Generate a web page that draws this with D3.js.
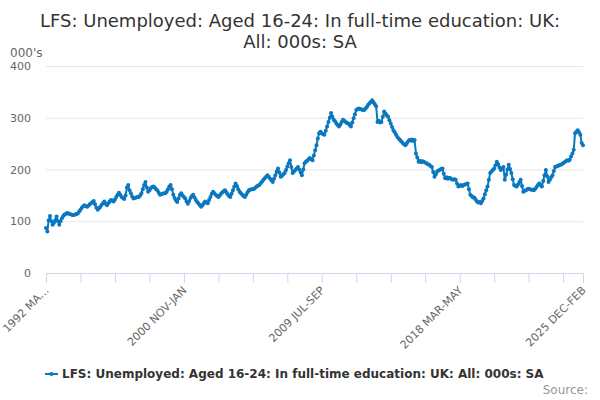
<!DOCTYPE html>
<html>
<head>
<meta charset="utf-8">
<script src="https://cdn.jsdelivr.net/npm/d3@7"></script>
<style>
  body { margin: 0; background: #fff; }
  svg { font-family: "DejaVu Sans", sans-serif; }
</style>
</head>
<body>
<div id="chart"></div>
<script>
// rolling three-month periods, first one is 1992 MAR-MAY
var startYear = 1992;
var startMonth = 2;
var monthNames = ["JAN", "FEB", "MAR", "APR", "MAY", "JUN", "JUL", "AUG", "SEP", "OCT", "NOV", "DEC"];

// thousands, one value per period
var unemployed = [
  87, 80, 102, 110, 100, 93, 97, 102, 109, 100, 93, 100,
  106, 110, 113, 114, 116, 115, 114, 113, 112, 112, 113, 114,
  115, 119, 122, 126, 129, 131, 129, 128, 130, 133, 135, 137,
  139, 133, 126, 122, 125, 128, 132, 135, 138, 134, 131, 135,
  138, 141, 140, 138, 142, 147, 151, 155, 151, 147, 145, 143,
  150, 165, 170, 160, 154, 148, 144, 145, 146, 147, 147, 150,
  154, 162, 170, 176, 165, 157, 160, 164, 166, 167, 165, 162,
  160, 155, 151, 152, 153, 154, 154, 157, 162, 167, 170, 162,
  151, 145, 140, 137, 144, 151, 154, 150, 147, 144, 138, 134,
  139, 145, 149, 151, 146, 141, 137, 135, 131, 128, 131, 135,
  138, 136, 135, 141, 147, 153, 157, 154, 151, 149, 147, 150,
  153, 156, 158, 160, 156, 152, 149, 147, 153, 160, 167, 173,
  168, 162, 157, 154, 151, 149, 147, 151, 156, 160, 161, 162,
  162, 163, 165, 167, 169, 170, 174, 177, 180, 183, 186, 189,
  186, 182, 179, 176, 182, 189, 196, 202, 194, 186, 188, 191,
  193, 199, 206, 212, 218, 205, 193, 196, 199, 202, 205, 200,
  194, 189, 200, 212, 215, 217, 220, 222, 220, 218, 227, 237,
  247, 260, 270, 273, 270, 268, 267, 275, 283, 292, 300, 309,
  302, 296, 293, 289, 286, 283, 287, 292, 296, 294, 292, 290,
  289, 286, 283, 291, 299, 307, 315, 317, 318, 317, 316, 315,
  315, 318, 321, 325, 328, 331, 334, 330, 326, 322, 292, 294,
  291, 292, 302, 312, 308, 305, 302, 295, 289, 282, 276, 272,
  267, 263, 260, 257, 254, 251, 249, 247, 250, 254, 257, 256,
  258, 255, 257, 231, 223, 215, 217, 214, 216, 215, 213, 212,
  210, 209, 207, 205, 195, 186, 191, 196, 198, 199, 201, 202,
  192, 183, 185, 182, 184, 183, 181, 180, 181, 180, 173, 167,
  168, 170, 168, 170, 171, 172, 173, 162, 151, 149, 146, 146,
  142, 138, 136, 137, 135, 139, 144, 152, 160, 167, 180, 193,
  196, 199, 202, 208, 215, 210, 204, 199, 202, 205, 180, 190,
  200, 209, 201, 193, 181, 170, 168, 167, 171, 176, 180, 168,
  157, 159, 160, 162, 163, 162, 161, 161, 160, 163, 166, 170,
  173, 170, 167, 178, 189, 199, 187, 176, 180, 185, 189, 197,
  205, 206, 207, 208, 209, 210, 212, 214, 216, 218, 217, 219,
  225, 231, 238, 270, 273, 276, 272, 267, 251, 247
];

var yTicks = [0, 100, 200, 300, 400];
var xTickLabels = ["1992 MA\u2026", "2000 NOV-JAN", "2009 JUL-SEP", "2018 MAR-MAY", "2025 DEC-FEB"];
var titleLines = ["LFS: Unemployed: Aged 16-24: In full-time education: UK:", "All: 000s: SA"];
var seriesName = "LFS: Unemployed: Aged 16-24: In full-time education: UK: All: 000s: SA";

var periods = unemployed.map(function(d, i) {
  var m = startMonth + i;
  var y = startYear + Math.floor(m / 12);
  return y + " " + monthNames[m % 12] + "-" + monthNames[(m + 2) % 12];
});

var svgWidth = 600;
var svgHeight = 400;
var margin = { top: 66, right: 17, bottom: 127, left: 46 };
var width = svgWidth - margin.left - margin.right;
var height = svgHeight - margin.top - margin.bottom;
var blue = "#0a78bf";

var svg = d3.select("#chart")
  .append("svg")
  .attr("width", svgWidth)
  .attr("height", svgHeight);

// title
svg.append("text")
  .attr("x", 300)
  .attr("y", 27)
  .attr("text-anchor", "middle")
  .attr("font-size", "18px")
  .attr("fill", "#333333")
  .selectAll("tspan")
  .data(titleLines)
  .enter()
  .append("tspan")
  .attr("x", 300)
  .attr("dy", (d, i) => i ? 21 : 0)
  .text(d => d);

var chartGroup = svg.append("g")
  .attr("transform", `translate(${margin.left}, ${margin.top})`);

// scales
var xScale = d3.scalePoint()
  .domain(periods)
  .range([0, width]);

var yScale = d3.scaleLinear()
  .domain([0, 400])
  .range([height, 0]);

// gridlines + y labels
var leftAxis = d3.axisLeft(yScale)
  .tickValues(yTicks)
  .tickSize(-width)
  .tickPadding(15);

var yAxis = chartGroup.append("g").call(leftAxis);
yAxis.select(".domain").remove();
yAxis.selectAll(".tick line").attr("stroke", "#e6e6e6");
yAxis.selectAll(".tick text")
  .attr("fill", "#666666")
  .attr("font-size", "11px")
  .attr("font-family", "DejaVu Sans");

svg.append("text")
  .attr("x", 10)
  .attr("y", 57)
  .attr("font-size", "12px")
  .attr("fill", "#666666")
  .text("000's");

// x axis: tick every 26 periods plus the last one, label every 4th tick
var tickIdx = d3.range(0, periods.length, 26).concat([periods.length - 1]);
var labelIdx = [0, 104, 208, 312, periods.length - 1];

var bottomAxis = d3.axisBottom(xScale)
  .tickValues(tickIdx.map(i => periods[i]))
  .tickSize(10)
  .tickFormat(function(d) {
    var k = labelIdx.indexOf(periods.indexOf(d));
    return k < 0 ? "" : xTickLabels[k];
  });

var xAxis = chartGroup.append("g")
  .attr("transform", `translate(0, ${height})`)
  .call(bottomAxis);
xAxis.select(".domain").attr("stroke", "#ccd6eb");
xAxis.selectAll(".tick line").attr("stroke", "#ccd6eb");
xAxis.selectAll(".tick text")
  .attr("fill", "#666666")
  .attr("font-size", "11px")
  .attr("font-family", "DejaVu Sans")
  .attr("text-anchor", "end")
  .attr("dy", null)
  .attr("y", 0)
  .attr("transform", "translate(3, 18) rotate(-45)");

// series
var line = d3.line()
  .x((d, i) => xScale(periods[i]))
  .y(d => yScale(d));

chartGroup.append("path")
  .datum(unemployed)
  .attr("fill", "none")
  .attr("stroke", blue)
  .attr("stroke-width", 2)
  .attr("stroke-linejoin", "round")
  .attr("d", line);

chartGroup.selectAll("circle")
  .data(unemployed)
  .enter()
  .append("circle")
  .attr("cx", (d, i) => xScale(periods[i]))
  .attr("cy", d => yScale(d))
  .attr("r", 2)
  .attr("fill", blue);

// legend
var legend = svg.append("g").attr("transform", "translate(45, 374)");
legend.append("line")
  .attr("x1", 0).attr("x2", 13)
  .attr("stroke", blue)
  .attr("stroke-width", 2);
legend.append("circle")
  .attr("cx", 6.5)
  .attr("r", 2)
  .attr("fill", blue);
legend.append("text")
  .attr("x", 17)
  .attr("y", 4)
  .attr("font-size", "12px")
  .attr("font-weight", "bold")
  .attr("fill", "#333333")
  .text(seriesName);

svg.append("text")
  .attr("x", 588)
  .attr("y", 394)
  .attr("text-anchor", "end")
  .attr("font-size", "12px")
  .attr("fill", "#999999")
  .text("Source:");
</script>
</body>
</html>
